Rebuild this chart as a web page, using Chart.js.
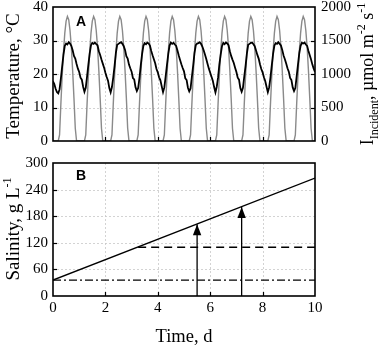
<!DOCTYPE html>
<html>
<head>
<meta charset="utf-8">
<script src="https://cdn.jsdelivr.net/npm/chart.js@4.4.1/dist/chart.umd.min.js"></script>
<style>
  html, body { margin:0; padding:0; background:#fff; }
  #wrap { position:relative; width:380px; height:345px; overflow:hidden; }
  #wrap canvas { position:absolute; left:0; }
</style>
</head>
<body>
<div id="wrap">
  <canvas id="panelA" width="380" height="150" style="top:0"></canvas>
  <canvas id="panelB" width="380" height="195" style="top:150px"></canvas>
</div>
<script>
/* ---- data ---- */
const sampleStep = 0.05;   // days between samples in panel A

// Panel A: water temperature, °C (20 samples per day, day 0 .. day 9, then t = 10)
const temperature = [
  17.8, 17.0, 15.6, 14.6, 14.2, 15.4, 18.6, 22.3, 25.8, 28.4, 29.1, 28.8, 29.5, 29.1, 28.4, 27.1, 25.4, 24.6, 23.0, 21.6,
  20.6, 18.9, 18.3, 16.2, 14.7, 15.9, 19.2, 22.8, 26.1, 28.6, 29.3, 29.0, 29.4, 28.9, 28.6, 26.8, 25.7, 24.3, 23.1, 21.9,
  20.4, 19.1, 18.0, 15.8, 14.5, 16.1, 19.0, 22.4, 26.3, 28.7, 29.0, 29.3, 29.5, 29.0, 28.3, 27.2, 25.3, 24.6, 22.8, 21.7,
  20.7, 18.8, 18.4, 16.0, 14.9, 15.8, 18.8, 22.6, 25.9, 28.4, 29.2, 28.9, 29.4, 29.1, 28.5, 26.9, 25.6, 24.4, 23.2, 21.5,
  20.5, 19.0, 18.1, 16.3, 14.6, 16.0, 19.3, 22.7, 26.0, 28.5, 29.4, 29.0, 29.3, 28.8, 28.4, 27.0, 25.5, 24.2, 22.9, 21.8,
  20.8, 18.7, 18.2, 15.9, 14.8, 15.7, 19.1, 22.5, 26.2, 28.6, 29.1, 29.2, 29.5, 29.0, 28.2, 27.1, 25.8, 24.5, 23.0, 21.6,
  20.4, 19.2, 18.0, 16.1, 14.5, 16.2, 18.9, 22.9, 25.8, 28.3, 29.3, 28.9, 29.4, 29.1, 28.6, 26.8, 25.4, 24.3, 23.3, 21.9,
  20.6, 18.9, 18.3, 15.8, 14.7, 15.9, 19.2, 22.4, 26.1, 28.7, 29.0, 29.3, 29.4, 28.9, 28.3, 27.0, 25.7, 24.6, 22.9, 21.5,
  20.5, 19.0, 17.9, 16.2, 14.6, 16.0, 19.0, 22.6, 26.0, 28.5, 29.2, 29.0, 29.5, 29.0, 28.5, 27.2, 25.5, 24.4, 23.1, 21.7,
  20.7, 18.8, 18.2, 16.0, 14.9, 15.8, 19.3, 22.8, 26.2, 28.4, 29.3, 29.1, 29.4, 28.8, 28.4, 26.9, 25.6, 24.3, 22.8, 21.6,
  20.6
];

// Panel A: incident light, µmol m-2 s-1 (same sampling)
const incident = [
  0, 0, 0, 0, 0, 90, 550, 970, 1330, 1610, 1790, 1860, 1810, 1650, 1400, 1050, 640, 190, 0, 0,
  0, 0, 0, 0, 0, 90, 550, 970, 1330, 1610, 1790, 1860, 1810, 1650, 1400, 1050, 640, 190, 0, 0,
  0, 0, 0, 0, 0, 90, 550, 970, 1330, 1610, 1790, 1860, 1810, 1650, 1400, 1050, 640, 190, 0, 0,
  0, 0, 0, 0, 0, 90, 550, 970, 1330, 1610, 1790, 1860, 1810, 1650, 1400, 1050, 640, 190, 0, 0,
  0, 0, 0, 0, 0, 90, 550, 970, 1330, 1610, 1790, 1860, 1810, 1650, 1400, 1050, 640, 190, 0, 0,
  0, 0, 0, 0, 0, 90, 550, 970, 1330, 1610, 1790, 1860, 1810, 1650, 1400, 1050, 640, 190, 0, 0,
  0, 0, 0, 0, 0, 90, 550, 970, 1330, 1610, 1790, 1860, 1810, 1650, 1400, 1050, 640, 190, 0, 0,
  0, 0, 0, 0, 0, 90, 550, 970, 1330, 1610, 1790, 1860, 1810, 1650, 1400, 1050, 640, 190, 0, 0,
  0, 0, 0, 0, 0, 90, 550, 970, 1330, 1610, 1790, 1860, 1810, 1650, 1400, 1050, 640, 190, 0, 0,
  0, 0, 0, 0, 0, 90, 550, 970, 1330, 1610, 1790, 1860, 1810, 1650, 1400, 1050, 640, 190, 0, 0,
  0
];

// Panel B: salinity, g L-1
const salinityTimes  = [0, 10];
const salinityValues = [36, 266];
const upperLimitTimes  = [3.25, 10];
const upperLimitValues = [110, 110];
const baseLevelTimes  = [0, 10];
const baseLevelValues = [36, 36];
const arrowTimes = [5.5, 7.2];
const arrowTips  = [162, 201];

// tick labels
const timeTicks     = [0, 2, 4, 6, 8, 10];
const tempTicks     = [0, 10, 20, 30, 40];
const lightTicks    = [0, 500, 1000, 1500, 2000];
const salinityTicks = [0, 60, 120, 180, 240, 300];

/* ---- helpers ---- */
const SERIF = '"Liberation Serif", "DejaVu Serif", serif';
const SANS  = '"Liberation Sans", Arial, sans-serif';
const GRID  = '#c8c8c8';

Chart.defaults.font.family = SERIF;
Chart.defaults.font.size   = 15;
Chart.defaults.color       = '#000';

const toXY = (xs, ys) => xs.map((x, i) => ({ x, y: ys[i] }));
const timeAxis = temperature.map((_, i) => +(i * sampleStep).toFixed(2));
const plain = v => String(v);

// fixed axis sizes, no extra label padding
const fixV = w => s => { s.width = w; s.paddingTop = 0; s.paddingBottom = 0; };
const fixH = h => s => { s.height = h; s.paddingLeft = 0; s.paddingRight = 0; };

// text with sub/superscripts, centred on (x, y), optionally rotated
function drawRich(ctx, parts, x, y, angle) {
  ctx.save();
  ctx.translate(x, y);
  ctx.rotate(angle);
  ctx.fillStyle = '#000';
  ctx.textBaseline = 'alphabetic';
  ctx.textAlign = 'left';
  let w = 0;
  parts.forEach(p => { ctx.font = `${p.size}px ${SERIF}`; w += ctx.measureText(p.t).width; });
  let cx = -w / 2;
  parts.forEach(p => {
    ctx.font = `${p.size}px ${SERIF}`;
    ctx.fillText(p.t, cx, p.dy || 0);
    cx += ctx.measureText(p.t).width;
  });
  ctx.restore();
}

function hline(ctx, x1, x2, y) { ctx.beginPath(); ctx.moveTo(x1, y); ctx.lineTo(x2, y); ctx.stroke(); }
function vline(ctx, x, y1, y2) { ctx.beginPath(); ctx.moveTo(x, y1); ctx.lineTo(x, y2); ctx.stroke(); }

/* grid, frame, inward ticks, arrowheads, titles */
const panelDecor = {
  id: 'panelDecor',
  beforeDatasetsDraw(chart) {
    const { ctx, chartArea: a, scales } = chart;
    ctx.save();
    ctx.strokeStyle = GRID; ctx.lineWidth = 0.8; ctx.setLineDash([2, 2]);
    scales.x.ticks.forEach(t => {
      if (t.value <= scales.x.min || t.value >= scales.x.max) return;
      vline(ctx, Math.round(scales.x.getPixelForValue(t.value)) + 0.5, a.top, a.bottom);
    });
    scales.y.ticks.forEach(t => {
      if (t.value <= scales.y.min || t.value >= scales.y.max) return;
      hline(ctx, a.left, a.right, Math.round(scales.y.getPixelForValue(t.value)) + 0.5);
    });
    ctx.restore();
  },
  afterDraw(chart, args, opts) {
    const { ctx, chartArea: a, scales } = chart;
    ctx.save();
    ctx.strokeStyle = '#000'; ctx.setLineDash([]);

    /* arrowheads on arrow datasets */
    chart.data.datasets.forEach((ds, i) => {
      if (!ds.arrow) return;
      const pts = chart.getDatasetMeta(i).data;
      const tip = pts[pts.length - 1];
      ctx.fillStyle = '#000';
      ctx.beginPath();
      ctx.moveTo(tip.x, tip.y);
      ctx.lineTo(tip.x - 4.2, tip.y + 11);
      ctx.lineTo(tip.x + 4.2, tip.y + 11);
      ctx.closePath();
      ctx.fill();
    });

    /* inward ticks */
    ctx.lineWidth = 1.2;
    const tl = 4;
    (opts.inward || []).forEach(id => {
      const s = scales[id];
      s.ticks.forEach(t => {
        if (t.value <= s.min || t.value >= s.max) return;
        const p = Math.round(s.getPixelForValue(t.value)) + 0.5;
        if (id === 'x') vline(ctx, p, a.bottom, a.bottom - tl);
        else if (s.position === 'left') hline(ctx, a.left, a.left + tl, p);
        else hline(ctx, a.right, a.right - tl, p);
      });
    });

    /* frame */
    ctx.lineWidth = 1.6;
    ctx.strokeRect(a.left, a.top, a.right - a.left, a.bottom - a.top);

    /* panel letter */
    ctx.fillStyle = '#000';
    ctx.font = `bold 14px ${SANS}`;
    ctx.textBaseline = 'alphabetic';
    ctx.fillText(opts.letter, a.left + 23, a.top + opts.letterDrop);
    ctx.restore();

    (opts.titles || []).forEach(t => drawRich(ctx, t.parts, t.x, t.y, t.angle));
  }
};

/* ---- panel A: temperature and incident light ---- */
new Chart(document.getElementById('panelA'), {
  type: 'line',
  data: {
    datasets: [
      { data: toXY(timeAxis, temperature), yAxisID: 'y', borderColor: '#000', borderWidth: 1.8, pointRadius: 0, tension: 0 },
      { data: toXY(timeAxis, incident), yAxisID: 'yR', borderColor: '#8a8a8a', borderWidth: 1.4, pointRadius: 0, tension: 0 }
    ]
  },
  options: {
    responsive: false,
    animation: false,
    layout: { padding: { top: 7, left: 0, right: 0, bottom: 0 } },
    plugins: {
      legend: { display: false },
      tooltip: { enabled: false },
      panelDecor: {
        letter: 'A', letterDrop: 19,
        inward: ['x', 'y', 'yR'],
        titles: [
          { parts: [{ t: 'Temperature, °C', size: 19 }], x: 18.5, y: 76, angle: -Math.PI / 2 },
          { parts: [
              { t: 'I', size: 18 }, { t: 'Incident', size: 12, dy: 5 },
              { t: ', µmol m', size: 18 }, { t: '-2', size: 12, dy: -8 },
              { t: ' s', size: 18 }, { t: '-1', size: 12, dy: -8 }
            ], x: 373, y: 74, angle: -Math.PI / 2 }
        ]
      }
    },
    scales: {
      x: {
        type: 'linear', min: 0, max: 10,
        afterBuildTicks: s => { s.ticks = timeTicks.map(v => ({ value: v })); },
        ticks: { display: false },
        grid: { display: false, drawTicks: false }, border: { display: false },
        afterFit: fixH(9)
      },
      y: {
        position: 'left', min: 0, max: 40,
        afterBuildTicks: s => { s.ticks = tempTicks.map(v => ({ value: v })); },
        ticks: { padding: 5, callback: plain },
        grid: { display: false, drawTicks: false }, border: { display: false },
        afterFit: fixV(53)
      },
      yR: {
        position: 'right', min: 0, max: 2000,
        afterBuildTicks: s => { s.ticks = lightTicks.map(v => ({ value: v })); },
        ticks: { padding: 6, callback: plain },
        grid: { display: false, drawTicks: false }, border: { display: false },
        afterFit: fixV(65)
      }
    }
  },
  plugins: [panelDecor]
});

/* ---- panel B: salinity ---- */
const arrowSets = arrowTimes.map((t, i) => ({
  data: toXY([t, t], [0, arrowTips[i]]), arrow: true,
  borderColor: '#000', borderWidth: 1.3, pointRadius: 0
}));

new Chart(document.getElementById('panelB'), {
  type: 'line',
  data: {
    datasets: [
      { data: toXY(salinityTimes, salinityValues), borderColor: '#000', borderWidth: 1.3, pointRadius: 0 },
      { data: toXY(upperLimitTimes, upperLimitValues), borderColor: '#000', borderWidth: 1.3, borderDash: [8, 5], pointRadius: 0 },
      { data: toXY(baseLevelTimes, baseLevelValues), borderColor: '#000', borderWidth: 1.3, borderDash: [8, 3, 2, 3], pointRadius: 0 },
      ...arrowSets
    ]
  },
  options: {
    responsive: false,
    animation: false,
    layout: { padding: { top: 13, left: 0, right: 65, bottom: 0 } },
    plugins: {
      legend: { display: false },
      tooltip: { enabled: false },
      panelDecor: {
        letter: 'B', letterDrop: 17,
        inward: ['x', 'y'],
        titles: [
          { parts: [{ t: 'Salinity, g L', size: 19 }, { t: '-1', size: 12, dy: -8 }], x: 18.5, y: 79, angle: -Math.PI / 2 },
          { parts: [{ t: 'Time, d', size: 18.5 }], x: 184, y: 191.5, angle: 0 }
        ]
      }
    },
    scales: {
      x: {
        type: 'linear', min: 0, max: 10,
        afterBuildTicks: s => { s.ticks = timeTicks.map(v => ({ value: v })); },
        ticks: { padding: 3, maxRotation: 0, callback: plain },
        grid: { display: false, drawTicks: false }, border: { display: false },
        afterFit: fixH(49)
      },
      y: {
        position: 'left', min: 0, max: 300,
        afterBuildTicks: s => { s.ticks = salinityTicks.map(v => ({ value: v })); },
        ticks: { padding: 5, callback: plain },
        grid: { display: false, drawTicks: false }, border: { display: false },
        afterFit: fixV(53)
      }
    }
  },
  plugins: [panelDecor]
});
</script>
</body>
</html>
